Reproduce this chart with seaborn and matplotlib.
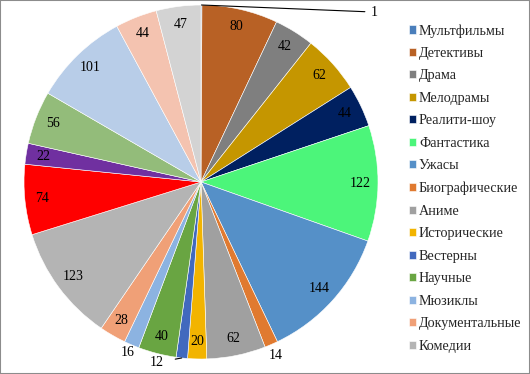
import numpy as np
import matplotlib
matplotlib.use("Agg")
import matplotlib.pyplot as plt
import seaborn as sns
from matplotlib.patches import Rectangle

# ----------------------------------------------
# Data
# ----------------------------------------------
genres = ["Мультфильмы", "Детективы", "Драма", "Мелодрамы", "Реалити-шоу",
          "Фантастика", "Ужасы", "Биографические", "Аниме", "Исторические",
          "Вестерны", "Научные", "Мюзиклы", "Документальные", "Комедии"]
# the legend shows only the first 15 genres, the pie has 6 more slices
values = [1, 80, 42, 62, 44, 122, 144, 14, 62, 20, 12, 40, 16, 28, 123,
          74, 22, 56, 101, 44, 47]
colors = ["#4A7EBB", "#B86125", "#7F7F7F", "#C59600", "#002060", "#4CF57A",
          "#5590C8", "#E07A30", "#A0A0A0", "#F2B400", "#4169BE", "#69A542",
          "#8CB3E1", "#F0A077", "#B4B4B4",
          "#FF0000", "#7030A0", "#93BC7A", "#B8CDE8", "#F4C3B0", "#D3D3D3"]

# ----------------------------------------------
# Figure
# ----------------------------------------------
sns.set_theme(style="white")
plt.rcParams["font.family"] = ["Liberation Serif", "DejaVu Serif"]

W, H = 530, 374
fig = plt.figure(figsize=(W / 100, H / 100), dpi=100)
cx, cy, r = 201, 182, 177
ax = fig.add_axes([(cx - r) / W, (H - cy - r) / H, 2 * r / W, 2 * r / H])

wedges, _ = ax.pie(values, colors=colors, startangle=90, counterclock=False,
                   radius=1.0,
                   wedgeprops=dict(edgecolor="white", linewidth=0.4))
ax.set_xlim(-1, 1)
ax.set_ylim(-1, 1)
ax.set_aspect("equal")

# data labels
fs = 10
outside = {7: 1.07, 12: 1.05}
for i, (w, v) in enumerate(zip(wedges, values)):
    ang = np.deg2rad((w.theta1 + w.theta2) / 2)
    ex, ey = np.cos(ang), np.sin(ang)
    if i == 0:
        ax.annotate(str(v), xy=(ex, ey), xytext=(0.96, 0.96), fontsize=fs,
                    ha="left", va="center", color="black",
                    arrowprops=dict(arrowstyle="-", color="black", lw=0.8,
                                    shrinkA=2, shrinkB=0))
    elif i == 10:
        ax.annotate(str(v), xy=(ex, ey), xytext=(-0.25, -1.02), fontsize=fs,
                    ha="center", va="center", color="black",
                    arrowprops=dict(arrowstyle="-", color="black", lw=0.8,
                                    shrinkA=6, shrinkB=0))
    else:
        d = outside.get(i, 0.9)
        ax.text(d * ex, d * ey, str(v), fontsize=fs, ha="center", va="center",
                color="black")

# legend (first 15 slices only)
fig.legend(wedges[:len(genres)], genres, loc="upper left",
           bbox_to_anchor=(409 / W, 1 - 24 / H), frameon=False, fontsize=10.2,
           handlelength=0.5, handleheight=0.5, handletextpad=0.2,
           labelspacing=0.67, borderpad=0, borderaxespad=0)

fig.patches.append(Rectangle((0, 0), 1, 1, transform=fig.transFigure,
                             fill=False, edgecolor="#8C8C8C", linewidth=1.5))

fig.savefig("out.png", dpi=100)
